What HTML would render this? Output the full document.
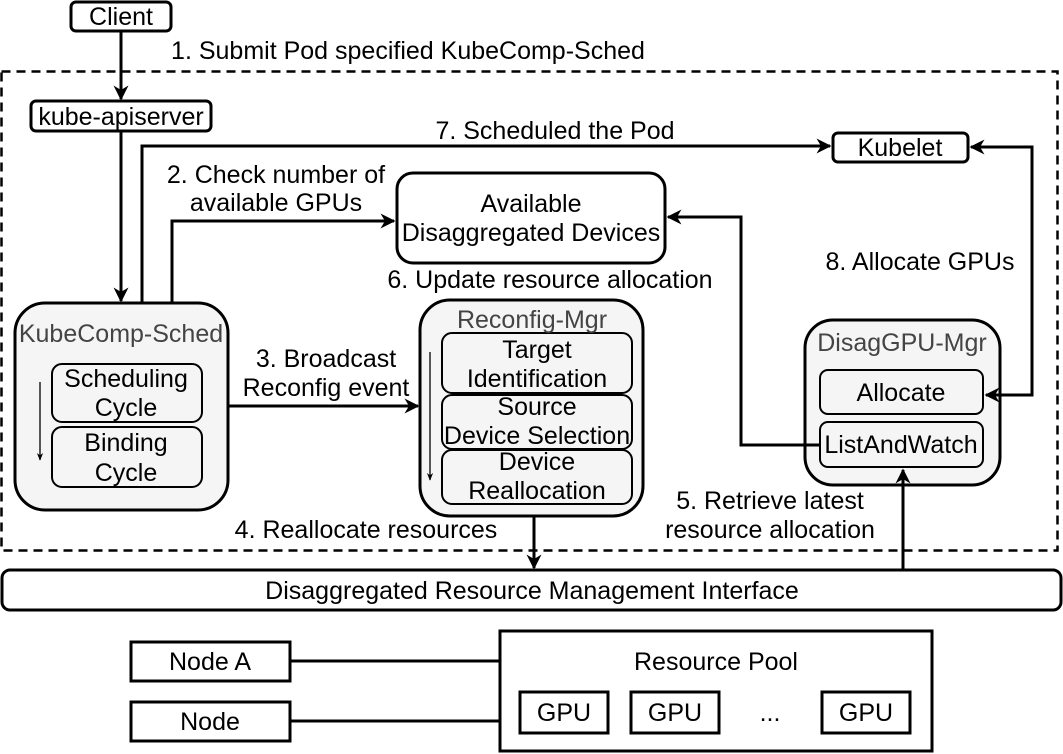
<!DOCTYPE html>
<html><head><meta charset="utf-8"><style>
html,body{margin:0;padding:0;background:#fff;}
svg{display:block;font-family:"Liberation Sans",Arial,sans-serif;}
text{font-size:25px;fill:#000;text-anchor:middle;}
.g{fill:#444;}
</style></head><body>
<svg width="1063" height="754" viewBox="0 0 1063 754" xmlns="http://www.w3.org/2000/svg">
<defs>
<marker id="a" viewBox="0 0 10 10" refX="9" refY="5" markerWidth="5" markerHeight="5" orient="auto-start-reverse"><path d="M0,0 L10,5 L0,10 L3,5 z" fill="#000"/></marker>
<marker id="s" viewBox="0 0 10 10" refX="9" refY="5" markerWidth="6" markerHeight="6" orient="auto"><path d="M0,1 L10,5 L0,9 L3,5 z" fill="#000"/></marker>
</defs>
<g fill="none" stroke="#000" stroke-width="3">
<rect x="1.5" y="71.5" width="1056" height="479" stroke-dasharray="9,6" stroke-width="2.5"/>
<rect x="71" y="2" width="100" height="29" rx="5" fill="#fff"/>
<rect x="31" y="101" width="180" height="30" rx="5" fill="#fff"/>
<rect x="833" y="133" width="135" height="29" rx="5" fill="#fff"/>
<rect x="397" y="173" width="268" height="90" rx="16" fill="#fff"/>
<rect x="15" y="303" width="213" height="207" rx="30" fill="#f5f5f5"/>
<rect x="420" y="300" width="223" height="216" rx="30" fill="#f5f5f5"/>
<rect x="805" y="320" width="195" height="165" rx="28" fill="#f5f5f5"/>
<rect x="2" y="570" width="1059" height="40" rx="8" fill="#fff"/>
<rect x="131" y="642" width="159" height="39" fill="#fff"/>
<rect x="131" y="702" width="159" height="39" fill="#fff"/>
<rect x="500" y="631" width="432" height="120" fill="#fff"/>
<rect x="520" y="692" width="88" height="41"/>
<rect x="631" y="692" width="88" height="41"/>
<rect x="822" y="692" width="88" height="41"/>
<path d="M290,661 H500 M290,721 H500"/>
</g>
<g fill="#f5f5f5" stroke="#000" stroke-width="2">
<rect x="52" y="364" width="150" height="58" rx="10"/>
<rect x="52" y="427" width="150" height="60" rx="10"/>
<rect x="442" y="333" width="190" height="60" rx="10"/>
<rect x="442" y="395" width="190" height="54" rx="10"/>
<rect x="442" y="450" width="190" height="54" rx="10"/>
<rect x="820" y="370" width="163" height="44" rx="8"/>
<rect x="820" y="422" width="163" height="45" rx="8"/>
</g>
<g fill="none" stroke="#000" stroke-width="3">
<path d="M121,31 V99" marker-end="url(#a)"/>
<path d="M121,131 V301" marker-end="url(#a)"/>
<path d="M142,303 V146 H830" marker-end="url(#a)"/>
<path d="M172,303 V221 H394" marker-end="url(#a)"/>
<path d="M228,406 H418" marker-end="url(#a)"/>
<path d="M820,445 H741 V217 H668" marker-end="url(#a)"/>
<path d="M971,147 H1032 V395 H986" marker-start="url(#a)" marker-end="url(#a)"/>
<path d="M534,516 V568" marker-end="url(#a)"/>
<path d="M903,570 V470" marker-end="url(#a)"/>
</g>
<g stroke="#000" stroke-width="1.3" fill="none">
<path d="M40,382 V460" marker-end="url(#s)"/>
<path d="M430,352 V480" marker-end="url(#s)"/>
</g>
<text x="121" y="25">Client</text>
<text x="408" y="59">1. Submit Pod specified KubeComp-Sched</text>
<text x="121" y="125">kube-apiserver</text>
<text x="555" y="139">7. Scheduled the Pod</text>
<text x="900" y="156">Kubelet</text>
<text x="276" y="183">2. Check number of</text>
<text x="276" y="211">available GPUs</text>
<text x="531" y="212">Available</text>
<text x="531" y="241">Disaggregated Devices</text>
<text x="550" y="288">6. Update resource allocation</text>
<text x="920" y="270">8. Allocate GPUs</text>
<text class="g" x="121" y="342">KubeComp-Sched</text>
<text x="126" y="387">Scheduling</text>
<text x="126" y="416">Cycle</text>
<text x="126" y="451">Binding</text>
<text x="126" y="481">Cycle</text>
<text x="326" y="367">3. Broadcast</text>
<text x="326" y="396">Reconfig event</text>
<text class="g" x="532" y="328">Reconfig-Mgr</text>
<text x="537" y="358">Target</text>
<text x="537" y="387">Identification</text>
<text x="537" y="415">Source</text>
<text x="537" y="444">Device Selection</text>
<text x="537" y="470">Device</text>
<text x="537" y="499">Reallocation</text>
<text class="g" x="902" y="351">DisagGPU-Mgr</text>
<text x="901" y="401">Allocate</text>
<text x="901" y="453">ListAndWatch</text>
<text x="770" y="509">5. Retrieve latest</text>
<text x="770" y="538">resource allocation</text>
<text x="366" y="538">4. Reallocate resources</text>
<text x="532" y="599">Disaggregated Resource Management Interface</text>
<text x="210" y="670">Node A</text>
<text x="210" y="730">Node</text>
<text x="716" y="670">Resource Pool</text>
<text x="564" y="721">GPU</text>
<text x="675" y="721">GPU</text>
<text x="770" y="721">...</text>
<text x="866" y="721">GPU</text>
</svg>
</body></html>
